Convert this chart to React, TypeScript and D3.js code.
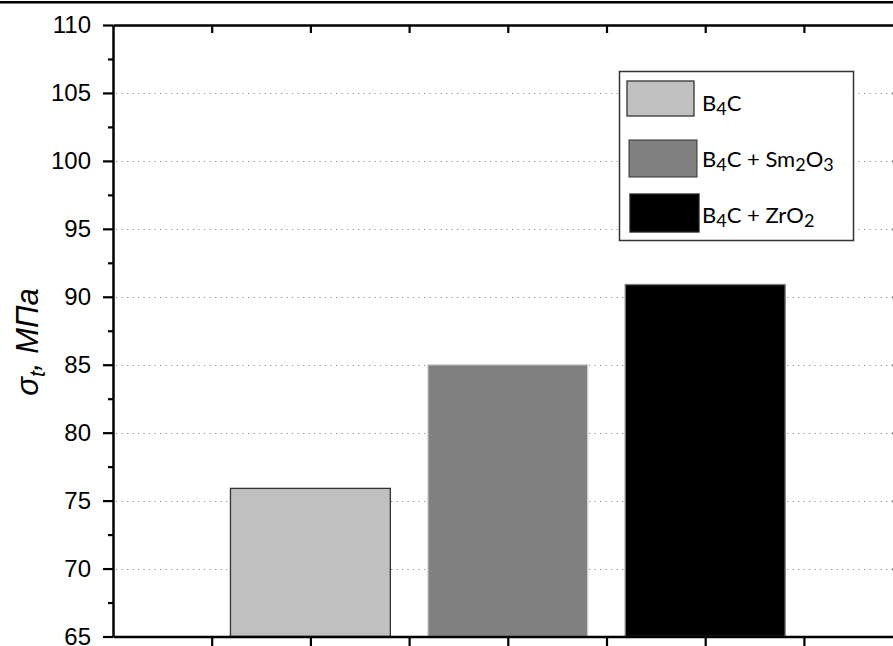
import * as React from "react"
import * as d3 from "d3"

const WIDTH = 893
const HEIGHT = 646

const categories = ["B4C", "B4C + Sm2O3", "B4C + ZrO2"]
const positions = [1, 2, 3]
const strength = [75.9, 85, 90.9]
const fills = ["#c0c0c0", "#808080", "#000000"]
const strokes = ["#333333", "#d4d4d4", "#7a7a7a"]

const yMajor = [65, 70, 75, 80, 85, 90, 95, 100, 105, 110]
const yMinor = [67.5, 72.5, 77.5, 82.5, 87.5, 92.5, 97.5, 102.5, 107.5]
const yGrid = [70, 75, 80, 85, 90, 95, 100, 105]
const xTicks = [0.5, 1, 1.5, 2, 2.5, 3, 3.5]

// legend labels split in pieces, true = subscript
const legendLabels: [string, boolean][][] = [
  [["B", false], ["4", true], ["C", false]],
  [["B", false], ["4", true], ["C + Sm", false], ["2", true], ["O", false], ["3", true]],
  [["B", false], ["4", true], ["C + ZrO", false], ["2", true]],
]

const x = d3.scaleLinear().domain([0, 4]).range([113, 902.6])
const y = d3.scaleLinear().domain([65, 110]).range([636.5, 25])

function App() {
  const svgRef = React.useRef<SVGSVGElement>(null)

  React.useEffect(() => {
    const svg = d3.select(svgRef.current)
    svg.selectAll("*").remove()

    // page top rule
    svg.append("rect").attr("x", 0).attr("y", 1).attr("width", WIDTH).attr("height", 2.5).attr("fill", "#000")

    // grid
    svg
      .append("g")
      .selectAll("line")
      .data(yGrid)
      .enter()
      .append("line")
      .attr("x1", 116)
      .attr("x2", 900)
      .attr("y1", d => Math.round(y(d)) + 0.5)
      .attr("y2", d => Math.round(y(d)) + 0.5)
      .attr("stroke", "#9a9a9a")
      .attr("stroke-width", 1.2)
      .attr("stroke-dasharray", "1.3,4.2")

    // bars
    const bw = x(0.81) - x(0)
    svg
      .append("g")
      .selectAll("rect")
      .data(strength)
      .enter()
      .append("rect")
      .attr("x", (d, i) => x(positions[i]) - bw / 2)
      .attr("width", bw)
      .attr("y", d => y(d))
      .attr("height", d => y(65) - y(d))
      .attr("fill", (d, i) => fills[i])
      .attr("stroke", (d, i) => strokes[i])
      .attr("stroke-width", 1.3)

    // axes
    const styleAxis = (g: any) => {
      g.select(".domain").attr("stroke", "#000").attr("stroke-width", 2.5)
      g.selectAll(".tick line").attr("stroke", "#000").attr("stroke-width", 2.2)
    }

    const left = svg
      .append("g")
      .attr("transform", `translate(${x(0)},0)`)
      .call(d3.axisLeft(y).tickValues(yMajor).tickSize(10).tickSizeOuter(0).tickPadding(12))
    styleAxis(left)
    left
      .selectAll(".tick text")
      .attr("font-family", "'Liberation Sans', Arial, sans-serif")
      .attr("font-size", 24)
      .attr("fill", "#000")
    svg
      .append("g")
      .attr("transform", `translate(${x(0)},0)`)
      .call(d3.axisLeft(y).tickValues(yMinor).tickSize(5).tickFormat(() => ""))
      .call(g => {
        g.select(".domain").remove()
        g.selectAll(".tick line").attr("stroke", "#000").attr("stroke-width", 2.2)
      })

    const right = svg
      .append("g")
      .attr("transform", `translate(${x(4)},0)`)
      .call(d3.axisLeft(y).tickValues(yGrid).tickSize(10).tickSizeOuter(0).tickFormat(() => ""))
    styleAxis(right)

    const bottom = svg
      .append("g")
      .attr("transform", `translate(0,${y(65)})`)
      .call(d3.axisBottom(x).tickValues(xTicks).tickSize(10).tickSizeOuter(0).tickFormat(() => ""))
    styleAxis(bottom)

    const top = svg
      .append("g")
      .attr("transform", `translate(0,${y(110)})`)
      .call(d3.axisBottom(x).tickValues(xTicks).tickSize(8).tickSizeOuter(0).tickFormat(() => ""))
    styleAxis(top)

    // y label
    const lab = svg
      .append("text")
      .attr("transform", `translate(38,${342}) rotate(-90)`)
      .attr("text-anchor", "middle")
      .attr("font-family", "'Liberation Sans', Arial, sans-serif")
      .attr("font-style", "italic")
      .attr("font-size", 31)
      .attr("fill", "#000")
    lab.append("tspan").text("σ")
    lab.append("tspan").attr("dy", 7).attr("font-size", 22).text("t")
    lab.append("tspan").attr("dy", -7).text(", МПа")

    // legend
    const lg = svg.append("g")
    lg.append("rect")
      .attr("x", 619.5)
      .attr("y", 71.5)
      .attr("width", 234)
      .attr("height", 169)
      .attr("fill", "#fff")
      .attr("stroke", "#333")
      .attr("stroke-width", 1.5)

    const swatches = [
      [627, 81, 67, 35],
      [629, 140, 68, 37],
      [630, 194, 69, 38],
    ]
    const baselines = [111, 167, 223]
    categories.forEach((c, i) => {
      const [sx, sy, sw, sh] = swatches[i]
      lg.append("rect")
        .attr("x", sx)
        .attr("y", sy)
        .attr("width", sw)
        .attr("height", sh)
        .attr("fill", fills[i])
        .attr("stroke", i === 2 ? "#222" : "#333")
        .attr("stroke-width", i === 1 ? 1 : 1.3)
      const t = lg
        .append("text")
        .attr("x", 702)
        .attr("y", baselines[i])
        .attr("font-family", "Lato, 'Open Sans', sans-serif")
        .attr("font-size", 22)
        .attr("fill", "#000")
      let shifted = false
      legendLabels[i].forEach(([s, sub]) => {
        const sp = t.append("tspan").text(s)
        if (sub && !shifted) {
          sp.attr("dy", 4).attr("font-size", 18)
          shifted = true
        } else if (sub) {
          sp.attr("font-size", 18)
        } else if (shifted) {
          sp.attr("dy", -4)
          shifted = false
        }
      })
    })
  }, [])

  return (
    <svg
      ref={svgRef}
      width={WIDTH}
      height={HEIGHT}
      style={{ position: "absolute", left: 0, top: 0, background: "#fff" }}
    />
  )
}

export default App
